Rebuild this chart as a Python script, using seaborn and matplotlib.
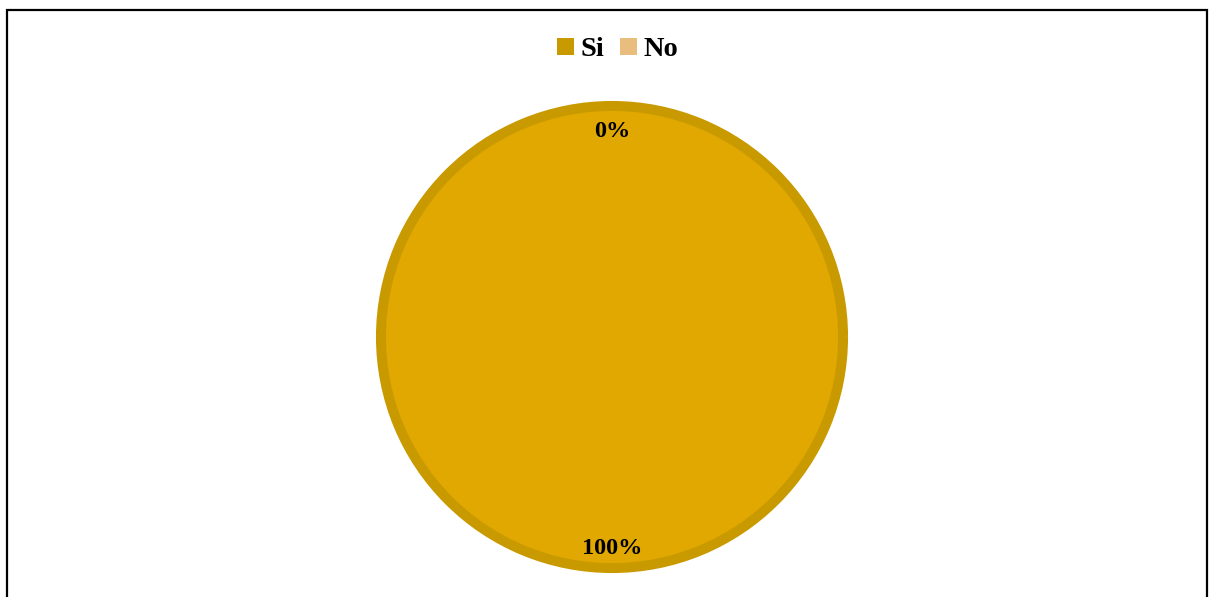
import matplotlib.pyplot as plt
import seaborn as sns
from matplotlib.patches import Patch, Rectangle

# Data
categories = ['Si', 'No']
values = [100, 0]
colors = ['#E0A800', '#E9BD7D']
legend_colors = ['#C99A00', '#E9BD7D']

sns.set_theme(style='white')
plt.rcParams['font.family'] = ['Liberation Serif', 'DejaVu Serif']

fig = plt.figure(figsize=(12.09, 5.97), dpi=100)
# axes box so the pie sits centred at (612, 337) px with radius 236 px
ax = fig.add_axes([(612 - 236) / 1209, (597 - 337 - 236) / 597, 472 / 1209, 472 / 597])

wedges, texts, autotexts = ax.pie(values, colors=colors, startangle=90, counterclock=False,
                                  radius=0.979, autopct='%1.0f%%', pctdistance=0.89,
                                  wedgeprops=dict(edgecolor='#C99A00', linewidth=7.2),
                                  textprops=dict(fontsize=17.5, fontweight='bold', color='black'))
wedges[1].set_linewidth(0)
# the bottom label sits a bit further out in the original
x0, y0 = autotexts[0].get_position()
autotexts[0].set_position((x0, y0 * 1.03))
ax.set_xlim(-1, 1)
ax.set_ylim(-1, 1)
ax.set_aspect('equal')
ax.axis('off')

# legend on top
handles = [Patch(facecolor=c, edgecolor='none') for c in legend_colors]
leg = fig.legend(handles, categories, loc='center', bbox_to_anchor=(0.511, 1 - 50 / 597), ncol=2,
                 frameon=False, prop=dict(size=20.5, weight='bold'), handlelength=0.58,
                 handleheight=0.58, handletextpad=0.25, columnspacing=0.55)
for t in leg.get_texts():
    t.set_color('black')

# chart border
fig.patches.append(Rectangle((6.5 / 1209, -0.05), (1207 - 6.5) / 1209, 1.05 - 9.5 / 597,
                             transform=fig.transFigure, fill=False, edgecolor='black',
                             linewidth=1.6, clip_on=False))

plt.savefig('out.png', dpi=100)
